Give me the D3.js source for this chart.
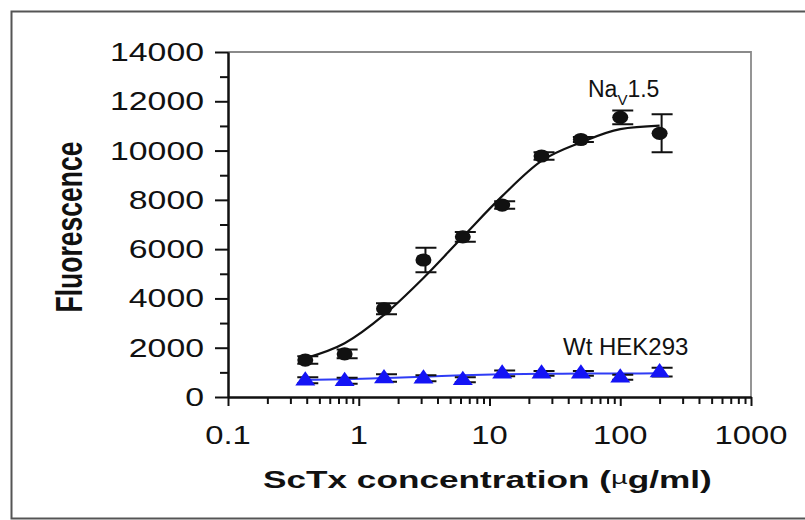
<!DOCTYPE html>
<html>
<head>
<meta charset="utf-8">
<script src="https://cdn.jsdelivr.net/npm/d3@7"></script>
<style>
  html, body { margin: 0; padding: 0; background: #fff; }
  svg { display: block; }
  text { font-family: Arial, "Liberation Sans", Helvetica, sans-serif; fill: #111; }
</style>
</head>
<body>
<svg id="chart" width="805" height="520"></svg>
<script>
// ---- data ----
const concentrations = [0.39, 0.78, 1.56, 3.125, 6.25, 12.5, 25, 50, 100, 200];
const navValues = [1500, 1750, 3580, 5560, 6500, 7790, 9780, 10450, 11350, 10700];
const navErrors = [150, 180, 220, 500, 200, 150, 150, 100, 280, 770];
const navFit = [1570, 2180, 3330, 4830, 6500, 8150, 9580, 10330, 10870, 11010];
const wtValues = [680, 660, 770, 760, 700, 960, 960, 960, 800, 1010];
const wtErrors = [120, 120, 150, 120, 100, 120, 100, 100, 100, 180];
const wtFit = [700, 720, 770, 820, 880, 925, 945, 950, 955, 960];
const yMajorTicks = [0, 2000, 4000, 6000, 8000, 10000, 12000, 14000];
const yMinorTicks = [1000, 3000, 5000, 7000, 9000, 11000, 13000];
const xMajorTicks = [0.1, 1, 10, 100, 1000];
const xTickLabels = ["0.1", "1", "10", "100", "1000"];
const xMinorTicks = [];
[0.1, 1, 10, 100].forEach(d => { for (let m = 2; m <= 9; m++) xMinorTicks.push(+(d * m).toPrecision(3)); });

// ---- layout ----
const svg = d3.select("#chart");
const pLeft = 228, pRight = 751, pTop = 52, pBottom = 397;
const x = d3.scaleLog().domain([0.1, 1000]).range([pLeft, pRight]);
const y = d3.scaleLinear().domain([0, 14000]).range([pBottom, pTop]);
const STRETCH = 1.3;

// outer frame
svg.append("rect").attr("x", 11.5).attr("y", 11.5).attr("width", 805).attr("height", 507)
  .attr("fill", "none").attr("stroke", "#555").attr("stroke-width", 2);

// plot border (top & right)
svg.append("path")
  .attr("d", `M${x(0.1)},${y(14000)}H${x(1000)}V${y(0)}`)
  .attr("fill", "none").attr("stroke", "#8a8a8a").attr("stroke-width", 1.8);

// y axis
const yAxisMajor = d3.axisLeft(y).tickValues(yMajorTicks).tickSize(13).tickSizeOuter(0).tickFormat("");
const yAxisMinor = d3.axisLeft(y).tickValues(yMinorTicks).tickSize(8).tickSizeOuter(0).tickFormat("");
const gy = svg.append("g").attr("transform", `translate(${pLeft},0)`);
gy.call(yAxisMajor);
gy.append("g").call(yAxisMinor);
// x axis
const xAxisMajor = d3.axisBottom(x).tickValues(xMajorTicks).tickSize(9).tickSizeOuter(0).tickFormat("");
const xAxisMinor = d3.axisBottom(x).tickValues(xMinorTicks).tickSize(7).tickSizeOuter(0).tickFormat("");
const gx = svg.append("g").attr("transform", `translate(0,${pBottom})`);
gx.call(xAxisMajor);
gx.append("g").call(xAxisMinor);
svg.selectAll(".domain, .tick line").attr("stroke", "#111").attr("stroke-width", 2);

// y tick labels
svg.append("g").selectAll("text").data(yMajorTicks).join("text")
  .attr("transform", d => `translate(204,${y(d) + 9}) scale(${STRETCH},1)`)
  .attr("text-anchor", "end").style("font-size", "26px")
  .text(d => d);

// x tick labels
svg.append("g").selectAll("text").data(xMajorTicks).join("text")
  .attr("transform", d => `translate(${x(d)},443.5) scale(${STRETCH - 0.04},1)`)
  .attr("text-anchor", "middle").style("font-size", "26px")
  .text((d, i) => xTickLabels[i]);

// axis titles
const xt = svg.append("text").attr("text-anchor", "start")
  .style("font-size", "23px").style("font-weight", "bold");
xt.append("tspan").text("ScTx concentration (");
xt.append("tspan").text("µ").style("font-weight", "normal").style("font-size", "19px").attr("dy", -4);
xt.append("tspan").text("g/ml)").attr("dy", 4);
const xtw = xt.node().getComputedTextLength();
xt.attr("transform", `translate(263,487.5) scale(${449 / xtw},1)`);

const yt = svg.append("text").attr("text-anchor", "middle")
  .style("font-size", "28px").style("font-weight", "bold").text("Fluorescence");
const ytw = yt.node().getComputedTextLength();
yt.attr("transform", `translate(82,227) rotate(-90) scale(${171 / ytw},1.35)`);

// curves
const line = d3.line().x(d => x(d[0])).y(d => y(d[1])).curve(d3.curveMonotoneX);
svg.append("path").datum(concentrations.map((c, i) => [c, navFit[i]]))
  .attr("d", line).attr("fill", "none").attr("stroke", "#111").attr("stroke-width", 2.2);
svg.append("path").datum(concentrations.map((c, i) => [c, wtFit[i]]))
  .attr("d", line).attr("fill", "none").attr("stroke", "#2f3cf5").attr("stroke-width", 2);

// error bars
function errorBars(vals, errs) {
  const g = svg.append("g").attr("stroke", "#111").attr("stroke-width", 2).attr("fill", "none");
  g.selectAll("path").data(concentrations).join("path")
    .attr("d", (c, i) => {
      const cx = x(c) + 2, y1 = y(vals[i] + errs[i]), y2 = y(vals[i] - errs[i]);
      return `M${cx},${y1}V${y2}M${cx - 10},${y1}H${cx + 11}M${cx - 10},${y2}H${cx + 11}`;
    });
}
errorBars(navValues, navErrors);
errorBars(wtValues, wtErrors);

// markers
svg.append("g").selectAll("ellipse").data(concentrations).join("ellipse")
  .attr("cx", d => x(d)).attr("cy", (d, i) => y(navValues[i]))
  .attr("rx", 8).attr("ry", 6.6).attr("fill", "#111");
svg.append("g").selectAll("path").data(concentrations).join("path")
  .attr("transform", (d, i) => `translate(${x(d)},${y(wtValues[i])})`)
  .attr("d", "M0,-9L10,5.2L-10,5.2Z").attr("fill", "#1414f5");

// series labels
const nl = svg.append("text").attr("x", 588).attr("y", 97).style("font-size", "23px");
nl.append("tspan").text("Na");
nl.append("tspan").text("V").style("font-size", "15px").attr("dy", 8);
nl.append("tspan").text("1.5").attr("dy", -8);
svg.append("text").attr("x", 563).attr("y", 355).style("font-size", "24px").text("Wt HEK293");
</script>
</body>
</html>
